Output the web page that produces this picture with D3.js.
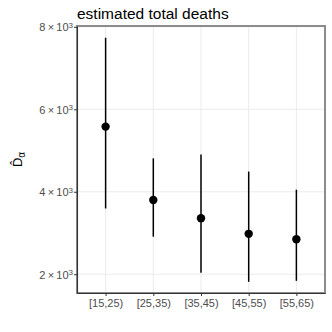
<!DOCTYPE html>
<html>
<head>
<meta charset="utf-8">
<script src="https://cdn.jsdelivr.net/npm/d3@7"></script>
<style>
  body { margin: 0; background: #fff; }
  text { font-family: "Liberation Sans", Arial, Helvetica, sans-serif; }
</style>
</head>
<body>
<div id="chart"></div>
<script>
// data
const groups = ["[15,25)", "[25,35)", "[35,45)", "[45,55)", "[55,65)"];
const estimate = [5580, 3800, 3360, 2980, 2850];
const lower = [3595, 2910, 2035, 1815, 1840];
const upper = [7735, 4810, 4905, 4490, 4050];
const yTicks = [2000, 4000, 6000, 8000];

const W = 332, H = 332;
const margin = {top: 26, right: 7, bottom: 39, left: 77};
const width = W - margin.left - margin.right;
const height = H - margin.top - margin.bottom;

const svg = d3.select("#chart").append("svg")
    .attr("width", W)
    .attr("height", H);

const g = svg.append("g")
    .attr("transform", "translate(" + margin.left + "," + margin.top + ")");

// scales
const x = d3.scalePoint()
    .domain(groups)
    .range([0, width])
    .padding(0.6);

const y = d3.scaleLinear()
    .domain([1545, 8020])
    .range([height, 0]);

// grid
g.selectAll(".hgrid").data(yTicks).enter().append("line")
    .attr("x1", 0).attr("x2", width)
    .attr("y1", d => y(d)).attr("y2", d => y(d))
    .attr("stroke", "#ebebeb").attr("stroke-width", 1);

g.selectAll(".vgrid").data(groups).enter().append("line")
    .attr("x1", d => x(d)).attr("x2", d => x(d))
    .attr("y1", 0).attr("y2", height)
    .attr("stroke", "#ebebeb").attr("stroke-width", 1);

// panel border
g.append("rect")
    .attr("x", 0).attr("y", 0)
    .attr("width", width).attr("height", height)
    .attr("fill", "none")
    .attr("stroke", "#8c8c8c")
    .attr("stroke-width", 2);

// error bars
const rows = groups.map((k, i) => ({k: k, est: estimate[i], lo: lower[i], hi: upper[i]}));

g.selectAll(".bar").data(rows).enter().append("line")
    .attr("x1", d => x(d.k)).attr("x2", d => x(d.k))
    .attr("y1", d => y(d.lo)).attr("y2", d => y(d.hi))
    .attr("stroke", "#000").attr("stroke-width", 1.5);

g.selectAll(".pt").data(rows).enter().append("circle")
    .attr("cx", d => x(d.k)).attr("cy", d => y(d.est))
    .attr("r", 4.2)
    .attr("fill", "#000");

// axes
const xAxis = g.append("g")
    .attr("transform", "translate(0," + height + ")")
    .call(d3.axisBottom(x).tickSizeInner(3).tickSizeOuter(0).tickPadding(3));

const yAxis = g.append("g")
    .call(d3.axisLeft(y).tickValues(yTicks).tickSizeInner(3).tickSizeOuter(0).tickFormat(""));

[xAxis, yAxis].forEach(a => {
    a.select(".domain").attr("stroke", "#333").attr("stroke-width", 1.1);
    a.selectAll(".tick line").attr("stroke", "#333");
});
xAxis.selectAll("text")
    .attr("fill", "#4d4d4d")
    .style("font-size", "11px");

// y tick labels like 8×10^3
yAxis.selectAll(".tick").each(function(d) {
    const t = d3.select(this).append("text")
        .attr("x", -4)
        .attr("dy", "0.36em")
        .attr("text-anchor", "end")
        .attr("fill", "#4d4d4d")
        .style("font-size", "11px");
    t.append("tspan").text((d / 1000) + "\u2009\u00d7\u200910");
    t.append("tspan").attr("dy", "-0.45em").style("font-size", "8px").text("3");
});

// title
svg.append("text")
    .attr("x", margin.left)
    .attr("y", 19)
    .attr("fill", "#000")
    .style("font-size", "15.5px")
    .text("estimated total deaths");

// y label: D-hat sub alpha
const yl = svg.append("text")
    .attr("transform", "translate(22," + (margin.top + height / 2) + ") rotate(-90)")
    .attr("text-anchor", "middle")
    .attr("fill", "#000")
    .style("font-size", "13px");
yl.append("tspan").text("D\u0302");
yl.append("tspan").attr("dy", "0.3em").style("font-size", "10px").text("\u03b1");
</script>
</body>
</html>
